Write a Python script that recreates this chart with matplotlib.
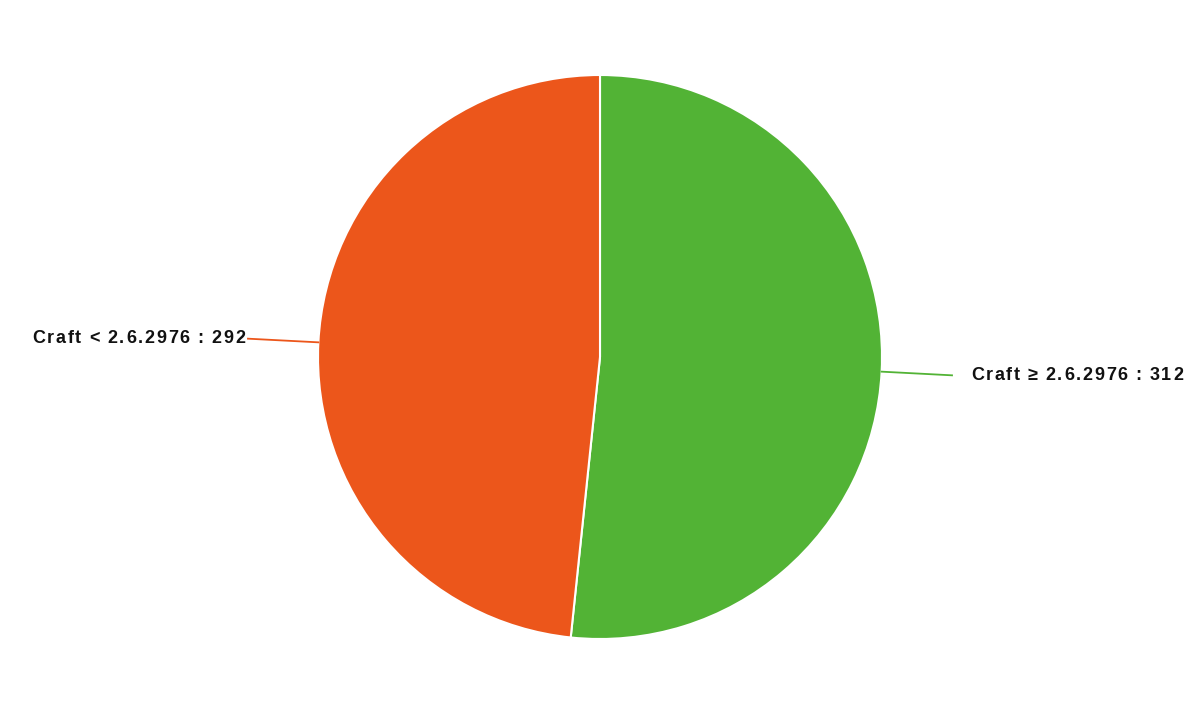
import matplotlib.pyplot as plt
import numpy as np

labels = ["Craft \u2265 2.6.2976", "Craft < 2.6.2976"]
values = [312, 292]
colors = ["#52b335", "#ec561b"]

fig = plt.figure(figsize=(12, 7.21), dpi=100)
ax = fig.add_axes([0, 0, 1, 1])

# one data unit = pie radius (282 px), centre at (600, 357) from top
r_px = 282

wedges, _ = ax.pie(values, colors=colors, startangle=90, counterclock=False,
                   radius=1.0, frame=True,
                   wedgeprops=dict(edgecolor="white", linewidth=1.5))
ax.set_xlim(-600 / r_px, 600 / r_px)
ax.set_ylim(-364 / r_px, 357 / r_px)
ax.set_aspect("auto")
ax.axis("off")

renderer = fig.canvas.get_renderer()
font = dict(fontsize=13, fontweight="bold", family=["Liberation Sans", "DejaVu Sans"],
            color="#111111")
tracking = 1.7  # extra px between glyphs, the source chart spaces letters out


def spaced_text(x_px, y_px, s, align):
    # draw glyph by glyph so letters get the wider spacing
    widths = []
    for ch in s:
        t = fig.text(0, 0, ch, **font)
        widths.append(t.get_window_extent(renderer).width if ch != " " else 4.5)
        t.remove()
    total = sum(widths) + tracking * (len(s) - 1)
    x = x_px if align == "left" else x_px - total
    for ch, w in zip(s, widths):
        fig.text(x / 1200, y_px / 721, ch, ha="left", va="center", **font)
        x += w + tracking


for w, lab, val, col in zip(wedges, labels, values, colors):
    mid = np.deg2rad((w.theta1 + w.theta2) / 2)
    x0, y0 = np.cos(mid), np.sin(mid)
    x1, y1 = 1.25 * x0, 1.25 * y0
    ax.plot([x0, x1], [y0, y1], color=col, lw=1.3)
    px, py = ax.transData.transform((x1, y1))
    if x0 > 0:
        spaced_text(px + 19, py, f"{lab} : {val}", "left")
    else:
        spaced_text(px - 3, py, f"{lab} : {val}", "right")

fig.savefig("out.png", dpi=100)
